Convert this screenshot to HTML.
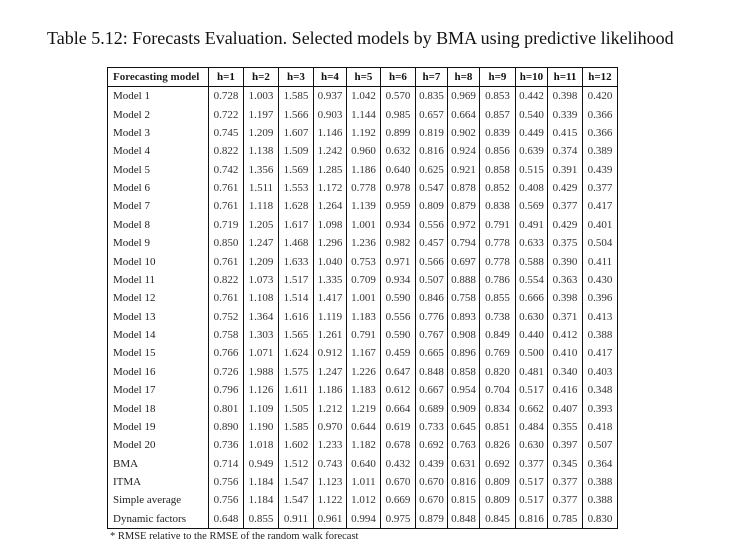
<!DOCTYPE html>
<html><head><meta charset="utf-8">
<style>
body{margin:0;width:742px;height:557px;background:#fff;position:relative;font-family:"Liberation Serif",serif;color:#222;overflow:hidden}
#title{position:absolute;left:47px;top:28px;font-size:18px;white-space:nowrap;color:#111}
table{position:absolute;left:107px;top:67px;border-collapse:collapse;font-size:11px;table-layout:fixed}
td,th{border-left:1.5px solid #111;border-right:1.5px solid #111;padding:0;height:18.375px;text-align:center;white-space:nowrap;color:#333}
th{font-weight:bold;height:18px;border-top:1.5px solid #111;border-bottom:1.5px solid #111;color:#111}
td.m,th.m{text-align:left;padding-left:5px;color:#222}
tr:last-child td{border-bottom:1.5px solid #111}
#note{position:absolute;left:110px;top:531px;font-size:10.5px;white-space:nowrap}
</style></head><body>
<div id="title">Table 5.12: Forecasts Evaluation. Selected models by BMA using predictive likelihood</div>
<table id="t">
<colgroup><col style="width:101px"><col style="width:35px"><col style="width:35px"><col style="width:35px"><col style="width:33px"><col style="width:34px"><col style="width:35px"><col style="width:32px"><col style="width:32px"><col style="width:36px"><col style="width:32px"><col style="width:35px"><col style="width:35px"></colgroup>
<thead><tr><th class="m">Forecasting model</th><th>h=1</th><th>h=2</th><th>h=3</th><th>h=4</th><th>h=5</th><th>h=6</th><th>h=7</th><th>h=8</th><th>h=9</th><th>h=10</th><th>h=11</th><th>h=12</th></tr></thead>
<tbody id="tb"></tbody>
</table>
<div id="note">* RMSE relative to the RMSE of the random walk forecast</div>
<script>
const rows=[
["Model 1","0.728 1.003 1.585 0.937 1.042 0.570 0.835 0.969 0.853 0.442 0.398 0.420"],
["Model 2","0.722 1.197 1.566 0.903 1.144 0.985 0.657 0.664 0.857 0.540 0.339 0.366"],
["Model 3","0.745 1.209 1.607 1.146 1.192 0.899 0.819 0.902 0.839 0.449 0.415 0.366"],
["Model 4","0.822 1.138 1.509 1.242 0.960 0.632 0.816 0.924 0.856 0.639 0.374 0.389"],
["Model 5","0.742 1.356 1.569 1.285 1.186 0.640 0.625 0.921 0.858 0.515 0.391 0.439"],
["Model 6","0.761 1.511 1.553 1.172 0.778 0.978 0.547 0.878 0.852 0.408 0.429 0.377"],
["Model 7","0.761 1.118 1.628 1.264 1.139 0.959 0.809 0.879 0.838 0.569 0.377 0.417"],
["Model 8","0.719 1.205 1.617 1.098 1.001 0.934 0.556 0.972 0.791 0.491 0.429 0.401"],
["Model 9","0.850 1.247 1.468 1.296 1.236 0.982 0.457 0.794 0.778 0.633 0.375 0.504"],
["Model 10","0.761 1.209 1.633 1.040 0.753 0.971 0.566 0.697 0.778 0.588 0.390 0.411"],
["Model 11","0.822 1.073 1.517 1.335 0.709 0.934 0.507 0.888 0.786 0.554 0.363 0.430"],
["Model 12","0.761 1.108 1.514 1.417 1.001 0.590 0.846 0.758 0.855 0.666 0.398 0.396"],
["Model 13","0.752 1.364 1.616 1.119 1.183 0.556 0.776 0.893 0.738 0.630 0.371 0.413"],
["Model 14","0.758 1.303 1.565 1.261 0.791 0.590 0.767 0.908 0.849 0.440 0.412 0.388"],
["Model 15","0.766 1.071 1.624 0.912 1.167 0.459 0.665 0.896 0.769 0.500 0.410 0.417"],
["Model 16","0.726 1.988 1.575 1.247 1.226 0.647 0.848 0.858 0.820 0.481 0.340 0.403"],
["Model 17","0.796 1.126 1.611 1.186 1.183 0.612 0.667 0.954 0.704 0.517 0.416 0.348"],
["Model 18","0.801 1.109 1.505 1.212 1.219 0.664 0.689 0.909 0.834 0.662 0.407 0.393"],
["Model 19","0.890 1.190 1.585 0.970 0.644 0.619 0.733 0.645 0.851 0.484 0.355 0.418"],
["Model 20","0.736 1.018 1.602 1.233 1.182 0.678 0.692 0.763 0.826 0.630 0.397 0.507"],
["BMA","0.714 0.949 1.512 0.743 0.640 0.432 0.439 0.631 0.692 0.377 0.345 0.364"],
["ITMA","0.756 1.184 1.547 1.123 1.011 0.670 0.670 0.816 0.809 0.517 0.377 0.388"],
["Simple average","0.756 1.184 1.547 1.122 1.012 0.669 0.670 0.815 0.809 0.517 0.377 0.388"],
["Dynamic factors","0.648 0.855 0.911 0.961 0.994 0.975 0.879 0.848 0.845 0.816 0.785 0.830"]
];
const tb=document.getElementById('tb');
rows.forEach(r=>{
 const tr=document.createElement('tr');
 
 
 const th=document.createElement('td');th.className='m';th.textContent=r[0];
 
 
 tr.appendChild(th);
 r[1].split(' ').forEach(v=>{
  const td=document.createElement('td');td.textContent=v;
  
  
  tr.appendChild(td);
 });
 tb.appendChild(tr);
});
</script>
</body></html>
